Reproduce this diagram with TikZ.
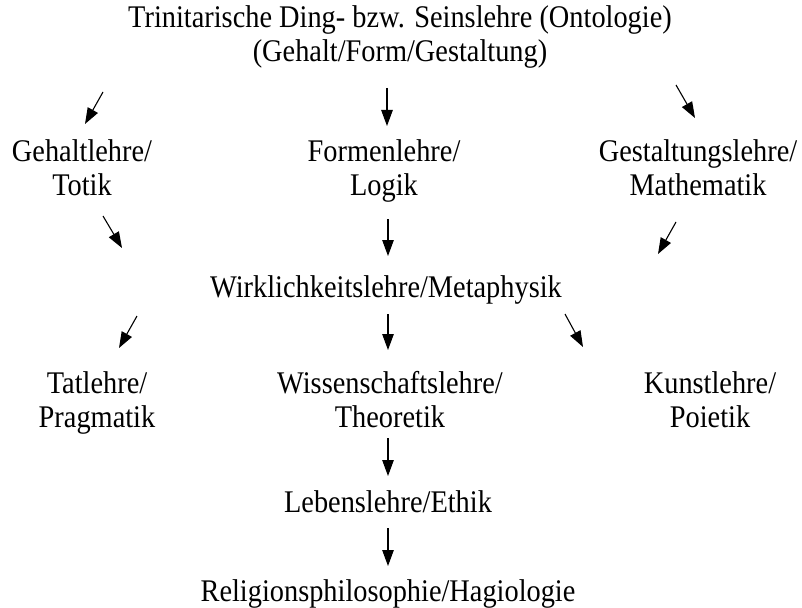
\documentclass[tikz,border=0pt]{standalone}
\usepackage{fontspec}
\setmainfont{Liberation Serif}[FakeStretch=0.9]
\usetikzlibrary{arrows.meta}
\tikzset{
  lehre/.style={align=center, inner sep=0pt, anchor=base, font=\fontsize{31.5}{34}\selectfont},
  pfeil/.style={-{Triangle[length=16pt,width=11.5pt]}, line width=1.1pt}
}
\begin{document}
\begin{tikzpicture}[x=1pt,y=-1pt]
\useasboundingbox (0,0) rectangle (802,607);
%Lehren (base = Grundlinie der letzten Zeile)
\node[lehre] (ontologie)    at (400, 62) {Trinitarische Ding- bzw. Seinslehre (Ontologie)\\(Gehalt/Form/Gestaltung)};
\node[lehre] (gehalt)       at ( 82,195) {Gehaltlehre/\\Totik};
\node[lehre] (form)         at (384,195) {Formenlehre/\\Logik};
\node[lehre] (gestaltung)   at (698,195) {Gestaltungslehre/\\Mathematik};
\node[lehre] (wirklichkeit) at (386,297) {Wirklichkeitslehre/Metaphysik};
\node[lehre] (tat)          at ( 97,427) {Tatlehre/\\Pragmatik};
\node[lehre] (wissenschaft) at (390,427) {Wissenschaftslehre/\\Theoretik};
\node[lehre] (kunst)        at (710,427) {Kunstlehre/\\Poietik};
\node[lehre] (leben)        at (388,512) {Lebenslehre/Ethik};
\node[lehre] (religion)     at (388,601) {Religionsphilosophie/Hagiologie};

%Pfeilenden
\coordinate (ontoGehaltA)   at (103, 92);  \coordinate (ontoGehaltB)   at ( 85,124);
\coordinate (ontoFormA)     at (387, 88);  \coordinate (ontoFormB)     at (387,126);
\coordinate (ontoGestA)     at (676, 85);  \coordinate (ontoGestB)     at (695,118);
\coordinate (gehaltWirkA)   at (103,216);  \coordinate (gehaltWirkB)   at (122,248);
\coordinate (formWirkA)     at (388,219);  \coordinate (formWirkB)     at (388,256);
\coordinate (gestWirkA)     at (676,222);  \coordinate (gestWirkB)     at (658,254);
\coordinate (wirkTatA)      at (137,316);  \coordinate (wirkTatB)      at (119,348);
\coordinate (wirkWissA)     at (388,314);  \coordinate (wirkWissB)     at (388,350);
\coordinate (wirkKunstA)    at (565,314);  \coordinate (wirkKunstB)    at (583,347);
\coordinate (wissLebenA)    at (388,438);  \coordinate (wissLebenB)    at (388,476);
\coordinate (lebenRelA)     at (388,528);  \coordinate (lebenRelB)     at (388,566);

%Pfeile
\draw[pfeil] (ontoGehaltA) -- (ontoGehaltB);
\draw[pfeil] (ontoFormA) -- (ontoFormB);
\draw[pfeil] (ontoGestA) -- (ontoGestB);
\draw[pfeil] (gehaltWirkA) -- (gehaltWirkB);
\draw[pfeil] (formWirkA) -- (formWirkB);
\draw[pfeil] (gestWirkA) -- (gestWirkB);
\draw[pfeil] (wirkTatA) -- (wirkTatB);
\draw[pfeil] (wirkWissA) -- (wirkWissB);
\draw[pfeil] (wirkKunstA) -- (wirkKunstB);
\draw[pfeil] (wissLebenA) -- (wissLebenB);
\draw[pfeil] (lebenRelA) -- (lebenRelB);
\end{tikzpicture}
\end{document}
